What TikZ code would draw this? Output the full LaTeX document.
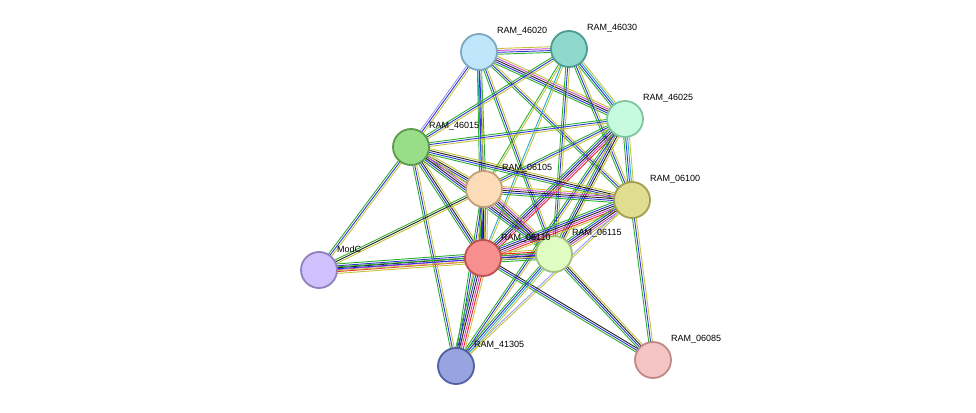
\documentclass[tikz,border=0pt]{standalone}
\usepackage{fontspec}
\setmainfont{Liberation Sans}
\usetikzlibrary{calc}
\definecolor{cg}{HTML}{2BB02B}
\definecolor{cb}{HTML}{3333DD}
\definecolor{ck}{HTML}{222222}
\definecolor{cy}{HTML}{C4C43C}
\definecolor{cc}{HTML}{22AACC}
\definecolor{cmg}{HTML}{CC44CC}
\definecolor{cr}{HTML}{EE2222}
\definecolor{cl}{HTML}{9999FF}
\newcommand\ed[4]{%
  \foreach \c [count=\i] in {#4} {%
    \pgfmathsetmacro\o{(\i-(#3+1)/2)*1.9}%
    \draw[draw=\c, line width=0.9pt] ($(#1)!\o pt!90:(#2)$) -- ($(#2)!\o pt!-90:(#1)$);
  }}
\newcommand\pn[4]{%
  \definecolor{f#1}{HTML}{#2}\definecolor{d#1}{HTML}{#3}%
  \node[prot, fill=f#1, draw=d#1] (n#1) at (#1) {};}
\tikzset{
  prot/.style={circle, minimum size=36pt, inner sep=0pt, line width=1.8pt},
  lab/.style={font=\fontsize{9}{10}\selectfont, anchor=south west, inner sep=1pt}
}
\begin{document}
\begin{tikzpicture}[x=1pt,y=-1pt]
\useasboundingbox (0,0) rectangle (976,412);
\coordinate (a) at (479,52);
\coordinate (b) at (569,49);
\coordinate (c) at (625,119);
\coordinate (d) at (411,147);
\coordinate (e) at (484,189);
\coordinate (f) at (632,200);
\coordinate (g) at (483,258);
\coordinate (h) at (554,254);
\coordinate (m) at (319,270);
\coordinate (k) at (456,366);
\coordinate (p) at (653,360);
% edges
\ed{a}{b}{4}{cg,cb,cmg,cy}
\ed{a}{c}{5}{cg,cb,ck,cmg,cy}
\ed{a}{d}{3}{cl,cb,cy}
\ed{a}{e}{3}{cc,cb,cg}
\ed{a}{f}{3}{cg,cb,cy}
\ed{a}{g}{3}{cg,cb,cy}
\ed{a}{h}{3}{cg,cb,cy}
\ed{b}{c}{4}{cg,cb,cc,cy}
\ed{b}{d}{3}{cg,cb,cy}
\ed{b}{e}{2}{cg,cy}
\ed{b}{f}{3}{cg,cb,cy}
\ed{b}{g}{2}{cc,cy}
\ed{b}{h}{3}{cg,cb,cy}
\ed{c}{d}{3}{cg,cb,cy}
\ed{c}{e}{3}{cg,cb,cy}
\ed{c}{f}{4}{cg,cb,cc,cy}
\ed{c}{g}{5}{cg,cb,ck,cmg,cr}
\ed{c}{h}{4}{cg,cb,ck,cy}
\ed{c}{k}{3}{cg,cb,cy}
\ed{d}{e}{4}{cg,cb,ck,cy}
\ed{d}{f}{4}{cg,cb,ck,cy}
\ed{d}{g}{4}{cg,cb,ck,cy}
\ed{d}{h}{5}{cg,cb,ck,cmg,cy}
\ed{d}{m}{3}{cg,cb,cy}
\ed{d}{k}{3}{cg,cb,cy}
\ed{e}{f}{5}{cg,cb,ck,cmg,cy}
\ed{e}{g}{5}{cg,cb,ck,cmg,cy}
\ed{e}{h}{5}{cg,cb,ck,cmg,cy}
\ed{e}{m}{3}{cg,ck,cy}
\ed{e}{k}{3}{cg,cb,cy}
\ed{f}{g}{6}{cg,cb,ck,cmg,cr,cy}
\ed{f}{h}{5}{cg,cb,ck,cmg,cy}
\ed{f}{p}{3}{cg,cb,cy}
\ed{f}{k}{2}{cl,cy}
\ed{g}{h}{6}{cg,cb,ck,cmg,cr,cy}
\ed{g}{m}{6}{cg,cb,ck,cmg,cr,cy}
\ed{g}{k}{6}{cg,cb,ck,cmg,cr,cy}
\ed{g}{p}{3}{cg,cb,ck}
\ed{h}{m}{3}{cg,cb,cy}
\ed{h}{k}{4}{cg,cb,cc,cy}
\ed{h}{p}{4}{cg,cb,ck,cy}
% nodes
\pn{a}{C0E6FB}{7AA8C0}{}
\pn{b}{8FD9CC}{4D9C8F}{}
\pn{c}{C6FBE0}{7FC69F}{}
\pn{d}{99DD88}{5B9B4C}{}
\pn{e}{FCDCB8}{C4A07A}{}
\pn{f}{E0DC90}{A0A050}{}
\pn{g}{F88F8F}{C05050}{}
\pn{h}{E0FCC0}{A0C080}{}
\pn{m}{D0C0FB}{9080C0}{}
\pn{k}{98A4DF}{5060A0}{}
\pn{p}{F4C4C4}{C08888}{}
\node[lab] (la) at (496,36) {RAM\_46020};
\node[lab] (lb) at (586,33) {RAM\_46030};
\node[lab] (lc) at (642,103) {RAM\_46025};
\node[lab] (ld) at (428,131) {RAM\_46015};
\node[lab] (le) at (501,173) {RAM\_06105};
\node[lab] (lf) at (649,184) {RAM\_06100};
\node[lab] (lg) at (500,243) {RAM\_06110};
\node[lab] (lh) at (571,238) {RAM\_06115};
\node[lab] (lm) at (336,254) {ModC};
\node[lab] (lk) at (473,350) {RAM\_41305};
\node[lab] (lp) at (670,344) {RAM\_06085};
\end{tikzpicture}
\end{document}
